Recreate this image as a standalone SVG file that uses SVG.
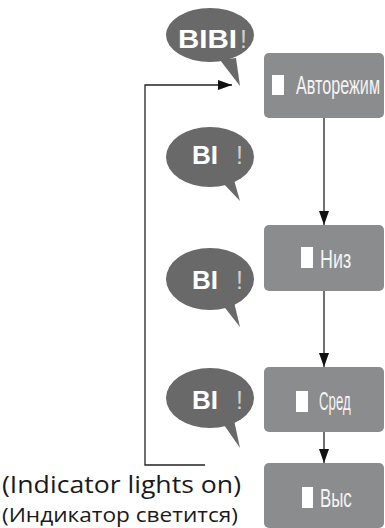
<svg xmlns="http://www.w3.org/2000/svg" width="385" height="528" viewBox="0 0 385 528">
<defs>
<style>
.box{fill:#8b8c8e;}
.bub{fill:#696969;}
.sq{fill:#ffffff;}
.lbl{fill:#f4f4f4;font-family:"Liberation Sans Narrow","Liberation Sans",sans-serif;font-size:25px;}
.bi{fill:#ffffff;font-family:"Liberation Sans",Arial,sans-serif;font-weight:bold;font-size:25px;}
.ex{fill:#cfcfcf;font-family:"Liberation Sans",Arial,sans-serif;font-size:25px;}
.cap{fill:#1a1a1a;font-family:"Open Sans","Liberation Sans",sans-serif;}
.ln{fill:none;stroke:#222;stroke-width:1.3;}
</style>
<marker id="ah" markerWidth="14" markerHeight="10" refX="14" refY="5" orient="auto" markerUnits="userSpaceOnUse">
<path d="M0,0 L14,5 L0,10 Z" fill="#111"/>
</marker>
</defs>

<g id="connectors">
<path class="ln" d="M324,118 V225" marker-end="url(#ah)"/>
<path class="ln" d="M324,291 V367" marker-end="url(#ah)"/>
<path class="ln" d="M324,432 V463" marker-end="url(#ah)"/>
<path class="ln" d="M205,465 H145 V85 H232" marker-end="url(#ah)"/>
</g>

<g id="bubble1">
<path class="bub" d="M220,60 L240,86 L236,58 Z"/>
<ellipse class="bub" cx="210" cy="35" rx="44" ry="27"/>
<text class="bi" x="178" y="48" textLength="59" lengthAdjust="spacingAndGlyphs">BIBI</text>
<text class="ex" x="240" y="48">!</text>
</g>

<g id="bubble2">
<path class="bub" d="M222,182 L240,201 L234,180 Z"/>
<ellipse class="bub" cx="210" cy="157" rx="44" ry="30"/>
<text class="bi" x="192" y="164" textLength="26" lengthAdjust="spacingAndGlyphs">BI</text>
<text class="ex" x="236" y="164">!</text>
</g>

<g id="bubble3">
<path class="bub" d="M222,304 L240,327 L234,302 Z"/>
<ellipse class="bub" cx="210" cy="279" rx="44" ry="31"/>
<text class="bi" x="192" y="289" textLength="26" lengthAdjust="spacingAndGlyphs">BI</text>
<text class="ex" x="236" y="289">!</text>
</g>

<g id="bubble4">
<path class="bub" d="M222,422 L240,448 L234,420 Z"/>
<ellipse class="bub" cx="210" cy="398" rx="44" ry="30"/>
<text class="bi" x="192" y="409" textLength="26" lengthAdjust="spacingAndGlyphs">BI</text>
<text class="ex" x="236" y="409">!</text>
</g>

<g id="node-auto">
<rect class="box" x="264" y="53" width="120" height="65" rx="5"/>
<rect class="sq" x="272" y="75" width="12" height="20"/>
<text class="lbl" transform="translate(296,94) scale(0.6,1)" textLength="140" lengthAdjust="spacingAndGlyphs">Авторежим</text>
</g>

<g id="node-low">
<rect class="box" x="264" y="225" width="120" height="66" rx="5"/>
<rect class="sq" x="301" y="247" width="12" height="21"/>
<text class="lbl" transform="translate(320,268) scale(0.6,1)" textLength="52" lengthAdjust="spacingAndGlyphs">Низ</text>
</g>

<g id="node-mid">
<rect class="box" x="264" y="367" width="120" height="65" rx="5"/>
<rect class="sq" x="296" y="391" width="12" height="21"/>
<text class="lbl" transform="translate(319,410) scale(0.6,1)" textLength="53" lengthAdjust="spacingAndGlyphs">Сред</text>
</g>

<g id="node-high">
<rect class="box" x="264" y="463" width="120" height="65" rx="5"/>
<rect class="sq" x="302" y="487" width="11" height="21"/>
<text class="lbl" transform="translate(320,507) scale(0.6,1)" textLength="53" lengthAdjust="spacingAndGlyphs">Выс</text>
</g>

<g id="caption">
<text class="cap" x="2" y="493" font-size="23" textLength="239" lengthAdjust="spacingAndGlyphs">(Indicator lights on)</text>
<text class="cap" x="2" y="522" font-size="20" textLength="236" lengthAdjust="spacingAndGlyphs">(Индикатор светится)</text>
</g>
</svg>
